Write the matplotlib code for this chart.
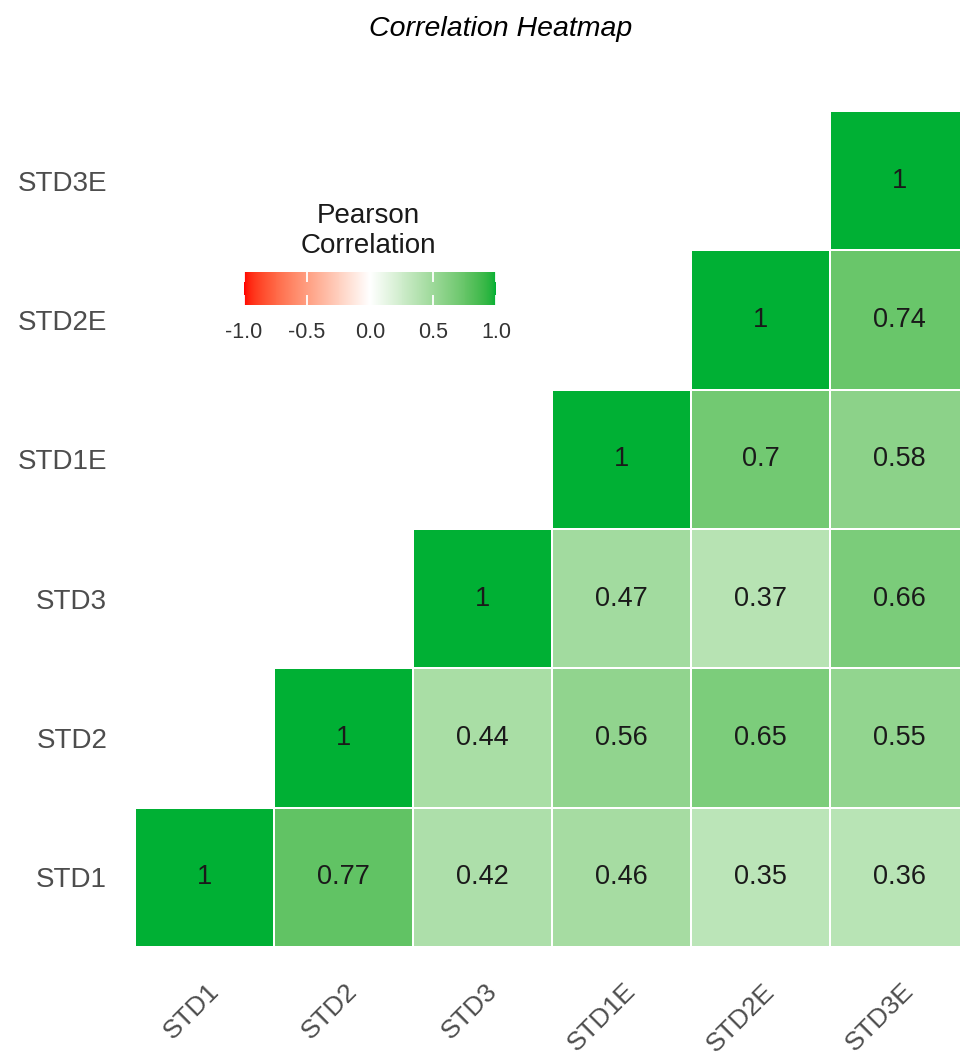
import numpy as np
import matplotlib
matplotlib.use("Agg")
import matplotlib.pyplot as plt
from matplotlib.colors import ListedColormap, Normalize
from matplotlib.transforms import ScaledTranslation

plt.rcParams['font.family'] = ['Liberation Sans', 'DejaVu Sans']
plt.rcParams['axes.unicode_minus'] = False

# data
labels = ["STD1", "STD2", "STD3", "STD1E", "STD2E", "STD3E"]
corr = np.array([
    [1.00, 0.77, 0.42, 0.46, 0.35, 0.36],
    [0.77, 1.00, 0.44, 0.56, 0.65, 0.55],
    [0.42, 0.44, 1.00, 0.47, 0.37, 0.66],
    [0.46, 0.56, 0.47, 1.00, 0.70, 0.58],
    [0.35, 0.65, 0.37, 0.70, 1.00, 0.74],
    [0.36, 0.55, 0.66, 0.58, 0.74, 1.00],
])
cbar_ticks = [-1.0, -0.5, 0.0, 0.5, 1.0]


# red - white - green ramp interpolated in Lab space (like ggplot gradient2)
def to_lab(rgb):
    c = np.asarray(rgb, float)
    lin = np.where(c <= 0.04045, c / 12.92, ((c + 0.055) / 1.055) ** 2.4)
    M = np.array([[0.4124, 0.3576, 0.1805], [0.2126, 0.7152, 0.0722], [0.0193, 0.1192, 0.9505]])
    xyz = M @ lin / np.array([0.95047, 1.0, 1.08883])
    f = np.where(xyz > 0.008856, np.cbrt(xyz), 7.787 * xyz + 16 / 116)
    return np.array([116 * f[1] - 16, 500 * (f[0] - f[1]), 200 * (f[1] - f[2])])


def from_lab(lab):
    L, a, b = lab
    fy = (L + 16) / 116
    fx = fy + a / 500
    fz = fy - b / 200
    f = np.array([fx, fy, fz])
    xyz = np.where(f ** 3 > 0.008856, f ** 3, (f - 16 / 116) / 7.787) * np.array([0.95047, 1.0, 1.08883])
    Minv = np.linalg.inv(np.array([[0.4124, 0.3576, 0.1805], [0.2126, 0.7152, 0.0722], [0.0193, 0.1192, 0.9505]]))
    lin = np.clip(Minv @ xyz, 0, 1)
    c = np.where(lin <= 0.0031308, 12.92 * lin, 1.055 * lin ** (1 / 2.4) - 0.055)
    return np.clip(c, 0, 1)


low, mid, high = to_lab([1, 0, 0]), to_lab([1, 1, 1]), to_lab([0, 176 / 255, 52 / 255])
cols = []
for t in np.linspace(-1, 1, 256):
    if t < 0:
        cols.append(from_lab(mid + (low - mid) * (-t)))
    else:
        cols.append(from_lab(mid + (high - mid) * t))
cmap = ListedColormap(cols)

W, H = 960, 1059
fig = plt.figure(figsize=(W / 100, H / 100), dpi=100)
ax = fig.add_axes([135 / W, 112 / H, 834 / W, 836 / H])

n = len(labels)
jj, ii = np.meshgrid(np.arange(n), np.arange(n))
data = np.ma.masked_where(jj < ii, corr)
mesh = ax.pcolormesh(np.arange(n + 1) - 0.5, np.arange(n + 1) - 0.5, data, cmap=cmap,
                     norm=Normalize(-1, 1), edgecolors='white', linewidth=1.1)
for i in range(n):
    for j in range(n):
        if j >= i:
            ax.text(j, i, f"{round(corr[i, j], 2):g}", ha='center', va='center',
                    fontsize=19.5, color='#1a1a1a')

ax.set_xlim(-0.5, n - 0.5)
ax.set_ylim(-0.5, n - 0.5)
for s in ax.spines.values():
    s.set_visible(False)
ax.set_xticks(range(n))
ax.set_yticks(range(n))
ax.set_xticklabels(labels, rotation=45, ha='right', va='top', rotation_mode='anchor',
                   fontsize=19, color='#4D4D4D')
ax.set_yticklabels(labels, fontsize=20, color='#4D4D4D')
ax.tick_params(axis='x', length=0, pad=0)
ax.tick_params(axis='y', length=0, pad=20)
off = ScaledTranslation(0.02, -0.32, fig.dpi_scale_trans)
for lab in ax.get_xticklabels():
    lab.set_transform(lab.get_transform() + off)

fig.text(501 / W, 1 - 29 / H, "Correlation Heatmap", ha='center', va='center',
         style='italic', fontsize=20.5, color='black')

# legend
cax = fig.add_axes([244 / W, 1 - 305 / H, 252 / W, 33 / H])
cb = fig.colorbar(mesh, cax=cax, orientation='horizontal', ticks=cbar_ticks)
cb.outline.set_visible(False)
cb.ax.set_xticklabels([f"{t:.1f}" for t in cbar_ticks])
cb.ax.xaxis.set_ticks_position('both')
cb.ax.tick_params(direction='in', length=7, width=1.3, color='white', labelcolor='#333333',
                  labelsize=15.5, pad=12, labeltop=False, labelbottom=True)
fig.text(368 / W, 1 - 231 / H, "Pearson\nCorrelation", ha='center', va='center',
         fontsize=20, color='#1a1a1a', linespacing=1.2)

fig.savefig("out.png", dpi=100)
